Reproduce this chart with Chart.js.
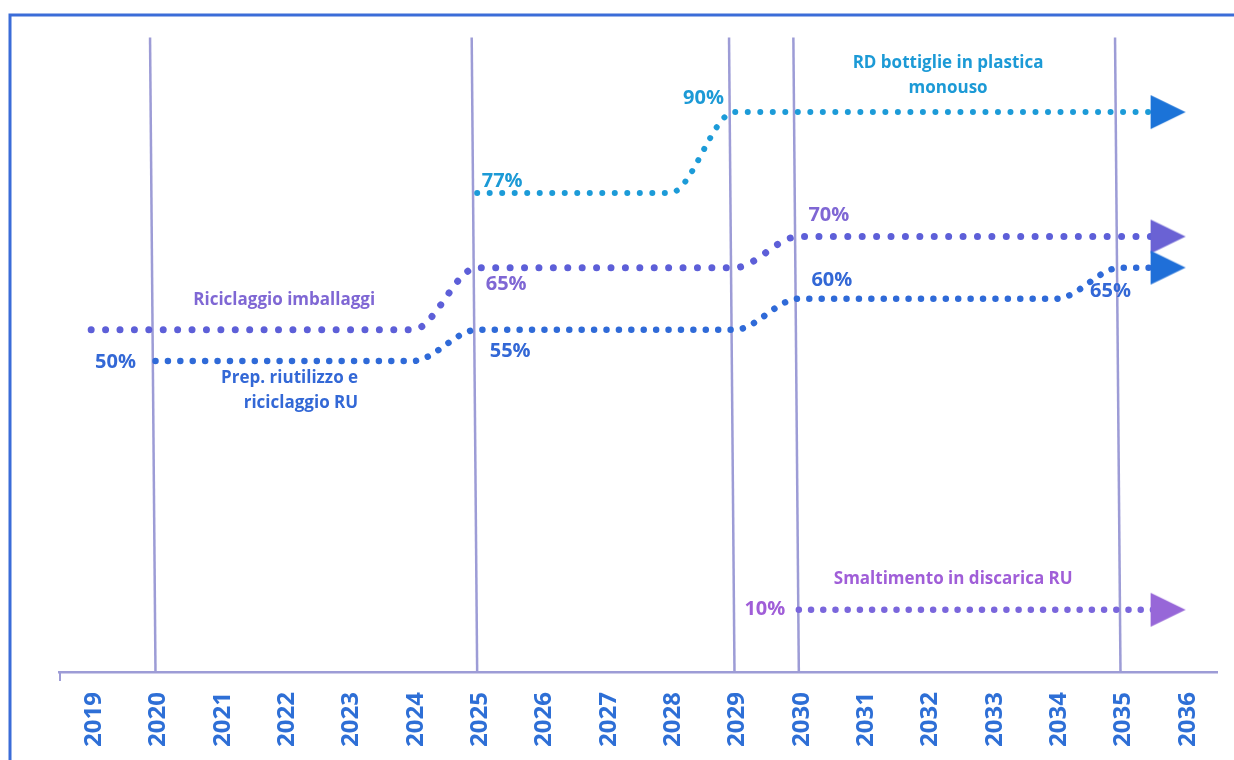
<!DOCTYPE html>
<html lang="it">
<head>
<meta charset="utf-8">
<title>Obiettivi di riciclaggio e discarica</title>
<script src="https://cdn.jsdelivr.net/npm/chart.js@4.4.1/dist/chart.umd.min.js"></script>
<style>
  html, body { margin: 0; padding: 0; background: #fff; overflow: hidden; }
  #wrap { position: relative; width: 1234px; height: 760px; }
  #wrap canvas { display: block; }
</style>
</head>
<body>
<div id="wrap"><canvas id="targets"></canvas></div>
<script>
// timeline
var years = [2019, 2020, 2021, 2022, 2023, 2024, 2025, 2026, 2027, 2028, 2029, 2030, 2031, 2032, 2033, 2034, 2035, 2036];
var yearLabels = ['2019', '2020', '2021', '2022', '2023', '2024', '2025', '2026', '2027', '2028', '2029', '2030', '2031', '2032', '2033', '2034', '2035', '2036'];
var milestoneYears = [2020, 2025, 2029, 2030, 2035];

// targets (%), breakpoints of each path
var rdYears = [2025, 2028, 2029];
var rdValues = [77, 77, 90];
var imbYears = [2019, 2024, 2025, 2029, 2030];
var imbValues = [55, 55, 65, 65, 70];
var ruYears = [2020, 2024, 2025, 2029, 2030, 2034, 2035];
var ruValues = [50, 50, 55, 55, 60, 60, 65];
var discYears = [2030];
var discValues = [10];

// layout bits
var ARROW_AT = 2035.74;   // where the arrow heads sit
var LINE_TOP = 102;       // milestone lines stop here
var LEAN = -0.085;        // milestone lines lean a little at the top
var FONT = '"Open Sans", "Noto Sans", sans-serif';

var C = {
  frame: '#3b6cd8', rule: '#9d9cd6', tick: '#2e6fd6',
  rd: '#1c9bd8', rdArrow: '#1b73d8', rdText: '#1c9ad6',
  imb: '#5d5fd8', imbArrow: '#6a62d4', imbText: '#7f67d4',
  ru: '#2f6ad8', ruArrow: '#1f6fd8', ruText: '#3368d6',
  disc: '#7a66dc', discArrow: '#9767d8', discText: '#a05ed8'
};

function arrowHead(color) {
  var c = document.createElement('canvas');
  c.width = 37; c.height = 36;
  var g = c.getContext('2d');
  g.fillStyle = color;
  g.beginPath(); g.moveTo(1, 1); g.lineTo(36, 18); g.lineTo(1, 35); g.closePath(); g.fill();
  return c;
}

function path(yrs, vals) {
  var pts = yrs.map(function (y, i) { return { x: y, y: vals[i] }; });
  pts.push({ x: ARROW_AT, y: vals[vals.length - 1] });
  return pts;
}

function trail(label, yrs, vals, color, arrow, gap, width, order) {
  var n = yrs.length;
  var head = arrowHead(arrow);
  return {
    label: label, data: path(yrs, vals), order: order,
    borderColor: color, borderWidth: width, borderDash: [0.01, gap], borderCapStyle: 'round',
    cubicInterpolationMode: 'monotone', fill: false,
    pointRadius: function (ctx) { return ctx.dataIndex === n ? 18 : 0; },
    pointStyle: head, pointHoverRadius: 0
  };
}

var rules = milestoneYears.map(function (y) {
  return {
    label: 'milestone ' + y, data: [{ x: y, y: 0 }, { x: y + LEAN, y: LINE_TOP }], order: 10,
    borderColor: C.rule, borderWidth: 2.5, pointRadius: 0, tension: 0
  };
});

var datasets = rules.concat([
  trail('RD bottiglie in plastica monouso', rdYears, rdValues, C.rd, C.rdArrow, 12.5, 6, 3),
  trail('Riciclaggio imballaggi', imbYears, imbValues, C.imb, C.imbArrow, 14.4, 7, 2),
  trail('Prep. riutilizzo e riciclaggio RU', ruYears, ruValues, C.ru, C.ruArrow, 12.4, 6.5, 1),
  trail('Smaltimento in discarica RU', discYears, discValues, C.disc, C.discArrow, 12.2, 6.5, 4)
]);

// value tags: [years, values, index, dx, dy, colour]
var tags = [
  [ruYears, ruValues, 0, -40, 1, C.ruText],
  [rdYears, rdValues, 0, 25, -12, C.rdText],
  [rdYears, rdValues, 2, -31, -14, C.rdText],
  [imbYears, imbValues, 2, 29, 17, C.imbText],
  [ruYears, ruValues, 2, 33, 21, C.ruText],
  [imbYears, imbValues, 4, 30, -21, C.imbText],
  [ruYears, ruValues, 4, 33, -18, C.ruText],
  [ruYears, ruValues, 6, -10, 24, C.ruText],
  [discYears, discValues, 0, -34, 0, C.discText]
];

// series captions: lines, x (year), y (%), align, colour
var captions = [
  [['RD bottiglie in plastica', 'monouso'], 2032.32, 97.9, 'center', C.rdText],
  [['Riciclaggio imballaggi'], 2022.0, 59.7, 'center', C.imbText],
  [['Prep. riutilizzo e', 'riciclaggio RU'], 2023.15, 47.3, 'right', C.ruText],
  [['Smaltimento in discarica RU'], 2032.4, 15.0, 'center', C.discText]
];

var decor = {
  id: 'decor',
  beforeDraw: function (chart) {
    var ctx = chart.ctx;
    ctx.save();
    ctx.fillStyle = '#fff';
    ctx.fillRect(0, 0, chart.width, chart.height);
    ctx.strokeStyle = C.frame; ctx.lineWidth = 3;
    ctx.beginPath(); ctx.moveTo(10, chart.height); ctx.lineTo(10, 15); ctx.lineTo(chart.width, 15); ctx.stroke();
    ctx.restore();
  },
  afterDraw: function (chart) {
    var ctx = chart.ctx, xs = chart.scales.x, ys = chart.scales.y, a = chart.chartArea;
    ctx.save();
    ctx.strokeStyle = C.rule; ctx.lineWidth = 2;
    ctx.beginPath(); ctx.moveTo(a.left + 1, a.bottom); ctx.lineTo(a.left + 1, a.bottom + 9); ctx.stroke();

    ctx.font = 'bold 20px ' + FONT;
    ctx.textAlign = 'center'; ctx.textBaseline = 'middle';
    tags.forEach(function (t) {
      var v = t[1][t[2]];
      ctx.fillStyle = t[5];
      ctx.fillText(v + '%', xs.getPixelForValue(t[0][t[2]]) + t[3], ys.getPixelForValue(v) + t[4]);
    });

    ctx.font = 'bold 17px ' + FONT;
    captions.forEach(function (c) {
      ctx.fillStyle = c[4]; ctx.textAlign = c[3];
      var x = xs.getPixelForValue(c[1]), y = ys.getPixelForValue(c[2]);
      c[0].forEach(function (line, i) { ctx.fillText(line, x, y + i * 25); });
    });
    ctx.restore();
  }
};

new Chart(document.getElementById('targets'), {
  type: 'line',
  data: { datasets: datasets },
  plugins: [decor],
  options: {
    responsive: true, maintainAspectRatio: false, animation: false,
    layout: { autoPadding: false, padding: { left: 59, right: 17, top: 25, bottom: 0 } },
    plugins: { legend: { display: false }, tooltip: { enabled: false } },
    events: [],
    scales: {
      x: {
        type: 'linear', min: 2018.5, max: 2036.5,
        afterBuildTicks: function (s) { s.ticks = years.map(function (y) { return { value: y }; }); },
        afterFit: function (s) { s.height = 88; s.paddingLeft = 0; s.paddingRight = 0; },
        grid: { display: false },
        border: { display: true, color: C.rule, width: 2.5 },
        ticks: {
          autoSkip: false, minRotation: 90, maxRotation: 90, padding: 12, labelOffset: 3,
          color: C.tick, font: { family: FONT, size: 24, weight: 'bold' },
          callback: function (v) { return yearLabels[years.indexOf(v)]; }
        }
      },
      y: { type: 'linear', min: 0, max: 104, display: false }
    }
  }
});
</script>
</body>
</html>
